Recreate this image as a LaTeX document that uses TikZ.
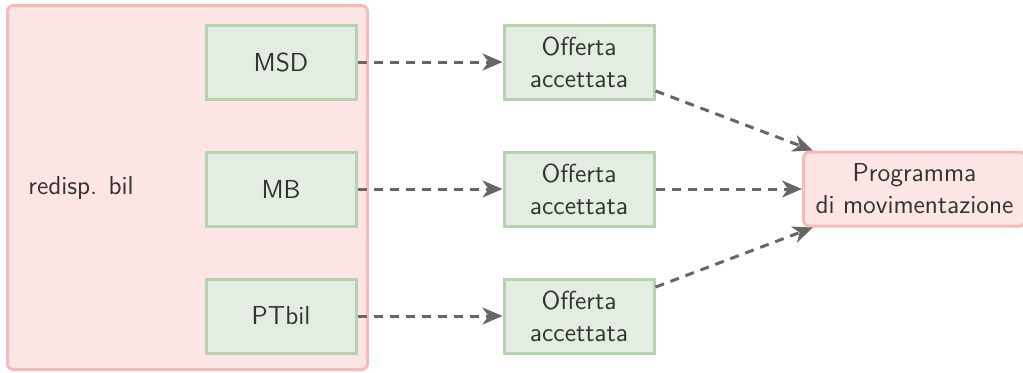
\documentclass[tikz,border=0pt]{standalone}
\usetikzlibrary{arrows.meta}
\definecolor{boxgreen}{HTML}{E3EDE1}
\definecolor{edgegreen}{HTML}{B7D2AF}
\definecolor{boxpink}{HTML}{FDE5E6}
\definecolor{edgepink}{HTML}{F7B9B9}
\definecolor{flowgrey}{HTML}{666666}
\definecolor{textgrey}{HTML}{333333}
\begin{document}
\begin{tikzpicture}[x=0.5pt,y=-0.5pt,
  every node/.style={font=\sffamily\fontsize{13}{16}\selectfont, text=textgrey, align=center, inner sep=0pt},
  stagebox/.style={draw=edgegreen, fill=boxgreen, line width=1.5pt,
    minimum width=75pt, minimum height=37pt},
  groupbox/.style={draw=edgepink, fill=boxpink, line width=1.5pt, rounded corners=3pt},
  flow/.style={draw=flowgrey, line width=1.5pt, dash pattern=on 4.5pt off 3.5pt,
    -{Stealth[length=10pt,width=8.5pt,inset=3pt]}}]
  \useasboundingbox (0,0) rectangle (1023,372);
  % enclosing group
  \node[groupbox, minimum width=180pt, minimum height=182pt] (grp) at (187.5,187.5) {};
  \node[anchor=west] (grplabel) at (28,188) {redisp. bil};
  % sources
  \node[stagebox] (msd) at (281,62) {MSD};
  \node[stagebox] (mb) at (281,189) {MB};
  \node[stagebox] (pt) at (281,316) {PTbil};
  % accepted offers
  \node[stagebox] (o1) at (579,62) {Offerta\\accettata};
  \node[stagebox] (o2) at (579,189) {Offerta\\accettata};
  \node[stagebox] (o3) at (579,316) {Offerta\\accettata};
  % target
  \node[groupbox, minimum width=111pt, minimum height=37pt] (prog) at (914.5,189) {Programma\\di movimentazione};
  % connectors
  \draw[flow] (msd) -- (o1);
  \draw[flow] (mb) -- (o2);
  \draw[flow] (pt) -- (o3);
  \draw[flow] (o1) -- (prog);
  \draw[flow] (o2) -- (prog);
  \draw[flow] (o3) -- (prog);
\end{tikzpicture}
\end{document}
